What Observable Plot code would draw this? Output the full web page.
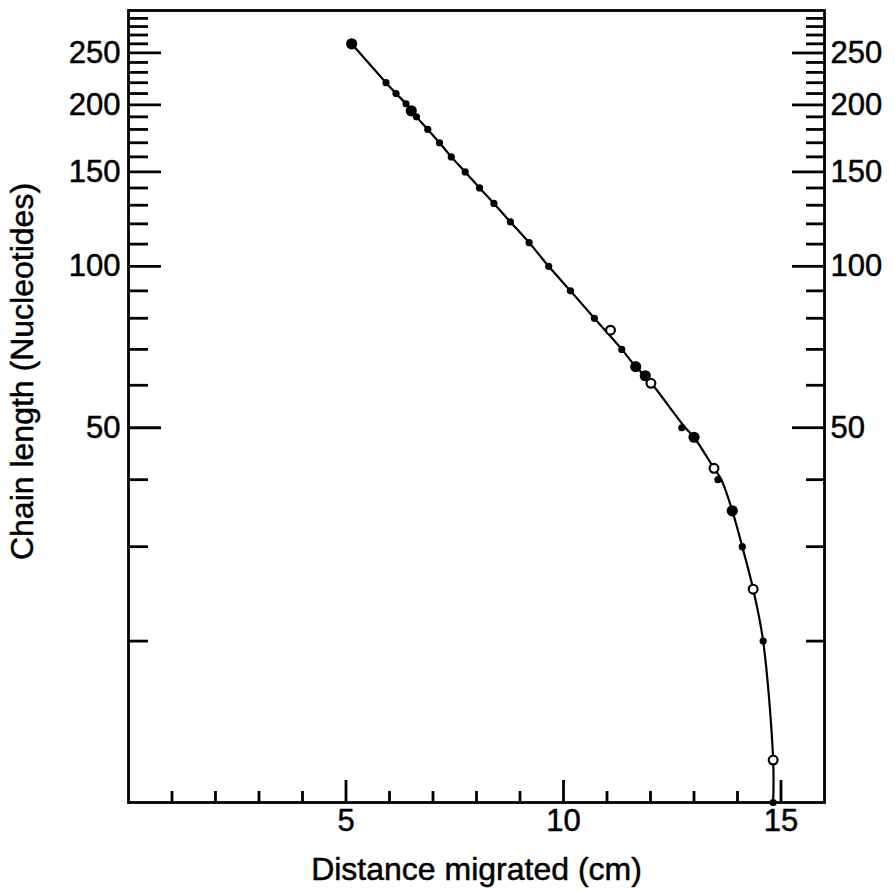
<!DOCTYPE html>
<html><head><meta charset="utf-8">
<script src="https://cdn.jsdelivr.net/npm/d3@7"></script>
<script src="https://cdn.jsdelivr.net/npm/@observablehq/plot@0.6"></script>
<style>body{margin:0;background:#fff;}</style>
</head><body><div id="chart"></div>
<script>
// Data: [distance (cm), chain length (nucleotides)]
const smallDots = [[5.92,220],[6.15,210],[6.38,201],[6.62,190],[6.88,180],[7.15,170],[7.42,160],[7.74,150],[8.07,140],[8.40,131],[8.78,121],[9.21,110.7],[9.66,100],[10.16,90],[10.71,80],[11.34,70],[12.72,50],[13.55,40],[14.11,30],[14.59,20],[14.82,10]];
const largeDots = [[5.13,260],[6.50,195],[11.66,65],[11.88,62.5],[13.0,48],[13.88,35]];
const openDots = [[11.08,76],[12.01,60.5],[13.46,42],[14.36,25],[14.82,12]];
const curvePts = [[5.13,260],[5.92,220],[6.15,210],[6.38,201],[6.62,190],[6.88,180],[7.15,170],[7.42,160],[7.74,150],[8.07,140],[8.40,131],[8.78,121],[9.21,110.7],[9.66,100],[10.16,90],[10.71,80],[11.34,70],[11.66,65],[11.95,61.5],[12.80,50],[13.0,48],[13.46,42],[13.63,40],[13.88,35],[14.11,30],[14.36,25],[14.59,20],[14.82,12],[14.82,10]];
const xTicksMinor = [1,2,3,4,6,7,8,9,11,12,13,14];
const xTicksMajor = [5,10,15];
const yTicksMinor = [20,30,40,60,70,80,90,110,120,130,140,160,170,180,190,210,220,230,240,260,270,280,290];
const yTicksMajor = [50,100,150,200,250];
const xTitle = "Distance migrated (cm)";
const yTitle = "Chain length (Nucleotides)";

const W = 895, H = 891, mL = 128, mR = 71, mT = 10, mB = 89;
const plotW = W - mL - mR, plotH = H - mT - mB;
const fs = 31, fsTitle = 32;
const sw = 2.8;
const textStyle = {fill: "black", stroke: "black", strokeWidth: 0.5};

const chart = Plot.plot({
  width: W, height: H,
  marginLeft: mL, marginRight: mR, marginTop: mT, marginBottom: mB,
  style: {fontFamily: "'Liberation Sans', Arial, sans-serif", background: "white", color: "black"},
  x: {domain: [0, 16], axis: null},
  y: {type: "log", domain: [10, 300], axis: null},
  marks: [
    Plot.frame({stroke: "black", strokeWidth: sw}),
    // left ticks (inward)
    Plot.tickY(yTicksMinor, {y: d => d, insetRight: plotW - 20, strokeWidth: sw}),
    Plot.tickY(yTicksMajor, {y: d => d, insetRight: plotW - 33, strokeWidth: sw}),
    // right ticks (inward)
    Plot.tickY(yTicksMinor, {y: d => d, insetLeft: plotW - 18, strokeWidth: sw}),
    Plot.tickY(yTicksMajor, {y: d => d, insetLeft: plotW - 32, strokeWidth: sw}),
    // bottom ticks (inward)
    Plot.tickX(xTicksMinor, {x: d => d, insetTop: plotH - 11, strokeWidth: sw}),
    Plot.tickX(xTicksMajor, {x: d => d, insetTop: plotH - 22, strokeWidth: sw}),
    // tick labels
    Plot.text(yTicksMajor, {y: d => d, text: d => String(d), frameAnchor: "left", dx: -8, textAnchor: "end", fontSize: fs, ...textStyle}),
    Plot.text(yTicksMajor, {y: d => d, text: d => String(d), frameAnchor: "right", dx: 6, textAnchor: "start", fontSize: fs, ...textStyle}),
    Plot.text(xTicksMajor, {x: d => d, text: d => String(d), frameAnchor: "bottom", dy: 28, fontSize: fs, ...textStyle}),
    // titles
    Plot.text([xTitle], {text: d => d, frameAnchor: "bottom", textAnchor: "middle", dy: 77, fontSize: fsTitle, ...textStyle}),
    Plot.text([yTitle], {text: d => d, frameAnchor: "left", textAnchor: "middle", dx: -106, dy: -35, rotate: -90, fontSize: fsTitle, ...textStyle}),
    // curve and points
    Plot.line(curvePts, {x: d => d[0], y: d => d[1], curve: "catmull-rom", stroke: "black", strokeWidth: 2.2}),
    Plot.dot(smallDots, {x: d => d[0], y: d => d[1], r: 3.6, fill: "black"}),
    Plot.dot(largeDots, {x: d => d[0], y: d => d[1], r: 5.6, fill: "black"}),
    Plot.dot(openDots, {x: d => d[0], y: d => d[1], r: 4.4, fill: "white", stroke: "black", strokeWidth: 2.2})
  ]
});
document.getElementById("chart").appendChild(chart);
</script>
</body></html>
